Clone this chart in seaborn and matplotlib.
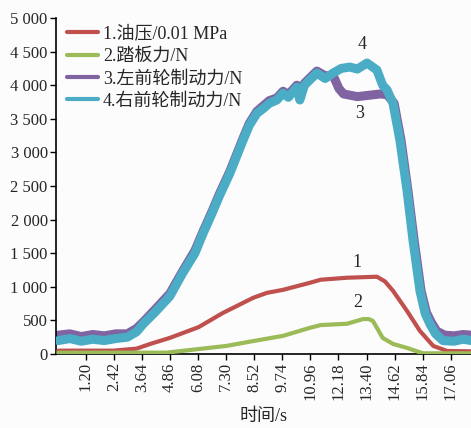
import seaborn as sns
import matplotlib.pyplot as plt
import pandas as pd

# 数据
t_oil = [0, 2.4, 3.4, 4.0, 4.85, 6.1, 7.15, 8.47, 9.07, 9.77, 10.94, 11.4, 12.55, 13.85, 14.2, 14.55, 15.16, 15.72, 16.3, 16.9, 17.95]
oil = [50, 50, 80, 150, 240, 400, 610, 836, 910, 955, 1060, 1105, 1135, 1150, 1080, 940, 640, 343, 120, 45, 40]

t_pedal = [0, 4.7, 6.0, 7.3, 8.5, 9.77, 10.94, 11.4, 12.55, 13.25, 13.5, 13.68, 14.1, 14.55, 15.16, 15.85, 17.95]
pedal = [20, 20, 70, 120, 194, 270, 390, 430, 450, 520, 520, 490, 240, 150, 90, 10, 10]

t_right = [0, 0.5, 1.0, 1.5, 2.0, 2.5, 3.0, 3.4, 3.7, 4.2, 4.85, 5.4, 5.94, 6.3, 6.68, 7.0, 7.46, 8.03, 8.3, 8.63, 8.9, 9.17,
           9.5, 9.77, 10.0, 10.37, 10.5, 10.7, 10.94, 11.24, 11.6, 11.94, 12.3, 12.68, 13.0, 13.42, 13.85, 14.1, 14.29,
           14.55, 14.85, 15.16, 15.42, 15.72, 15.95, 16.15, 16.4, 16.72, 17.2, 17.6, 17.95]
right = [200, 230, 190, 220, 200, 230, 250, 330, 450, 620, 860, 1200, 1500, 1800, 2090, 2350, 2690, 3180, 3400, 3580, 3650, 3730,
         3780, 3880, 3820, 3970, 3780, 4000, 4080, 4180, 4100, 4180, 4250, 4270, 4240, 4330, 4225, 4000, 3930,
         3730, 3180, 2430, 1690, 940, 600, 450, 300, 200, 190, 220, 200]

t_left = [0, 0.5, 1.0, 1.5, 2.0, 2.5, 3.0, 3.4, 3.7, 4.2, 4.85, 5.4, 5.94, 6.3, 6.68, 7.0, 7.46, 8.03, 8.3, 8.63, 8.9, 9.17,
          9.5, 9.77, 10.0, 10.37, 10.5, 10.7, 10.94, 11.24, 11.6, 11.94, 12.2, 12.4, 13.0, 13.5, 14.0, 14.29,
          14.6, 14.9, 15.2, 15.47, 15.77, 16.0, 16.2, 16.45, 16.8, 17.2, 17.6, 17.95]
left = [280, 300, 260, 290, 270, 300, 300, 380, 480, 660, 900, 1230, 1540, 1830, 2120, 2380, 2720, 3210, 3430, 3610, 3690, 3770,
        3810, 3910, 3860, 4000, 3830, 4030, 4110, 4210, 4140, 4150, 3950, 3870, 3830, 3850, 3870, 3860,
        3730, 3180, 2430, 1690, 940, 620, 480, 340, 280, 270, 290, 280]

labels = ['1.油压/0.01 MPa', '2.踏板力/N', '3.左前轮制动力/N', '4.右前轮制动力/N']
colors = ['#c0504d', '#9bbb59', '#8064a2', '#4bacc6']

x_ticks = [1.20, 2.42, 3.64, 4.86, 6.08, 7.30, 8.52, 9.74, 10.96, 12.18, 13.40, 14.62, 15.84, 17.06]
y_ticks = [0, 500, 1000, 1500, 2000, 2500, 3000, 3500, 4000, 4500, 5000]
y_ticklabels = ['0', '500', '1 000', '1 500', '2 000', '2 500', '3 000', '3 500', '4 000', '4 500', '5 000']

sns.set_style('ticks')
plt.rcParams['font.family'] = ['Liberation Serif', 'Noto Sans CJK SC']

fig = plt.figure(figsize=(4.71, 4.28), dpi=100, facecolor='#fcfcfc')
ax = fig.add_axes([56 / 471, 1 - 354 / 428, 1 - 56 / 471, (354 - 18) / 428])
ax.set_facecolor('#fcfcfc')

sns.lineplot(x=t_left, y=left, ax=ax, color=colors[2], linewidth=6.5, label=labels[2], zorder=2)
sns.lineplot(x=t_right, y=right, ax=ax, color=colors[3], linewidth=6.5, label=labels[3], zorder=3)
sns.lineplot(x=t_oil, y=oil, ax=ax, color=colors[0], linewidth=3, label=labels[0], zorder=4)
sns.lineplot(x=t_pedal, y=pedal, ax=ax, color=colors[1], linewidth=3, label=labels[1], zorder=4)

ax.set_xlim(-0.1, 17.94)
ax.set_ylim(0, 5000)
ax.set_xticks(x_ticks)
ax.set_xticklabels([f'{v:.2f}' for v in x_ticks], rotation=90, fontsize=12)
ax.set_yticks(y_ticks)
ax.set_yticklabels(y_ticklabels, fontsize=12)
ax.tick_params(length=4, width=1, color='black', pad=2)
for s in ['top', 'right']:
    ax.spines[s].set_visible(False)
for s in ['left', 'bottom']:
    ax.spines[s].set_color('black')
    ax.spines[s].set_linewidth(1.2)
ax.set_xlabel('时间/s', fontsize=13, labelpad=6)
ax.set_ylabel('')

h, l = ax.get_legend_handles_labels()
order = [l.index(x) for x in labels]
leg = ax.legend([h[i] for i in order], [l[i] for i in order], loc='upper left', bbox_to_anchor=(0.0, 1.01),
                frameon=False, fontsize=13, handlelength=1.7, handletextpad=0.3, labelspacing=0.3, borderaxespad=0.2)
for line in leg.get_lines():
    line.set_linewidth(3)

ax.text(13.2, 4613, '4', ha='center', va='center', fontsize=13)
ax.text(13.1, 3583, '3', ha='center', va='center', fontsize=13)
ax.text(13.0, 1360, '1', ha='center', va='center', fontsize=13)
ax.text(13.0, 760, '2', ha='center', va='center', fontsize=13)

plt.savefig('out.png', dpi=100, facecolor=fig.get_facecolor())
